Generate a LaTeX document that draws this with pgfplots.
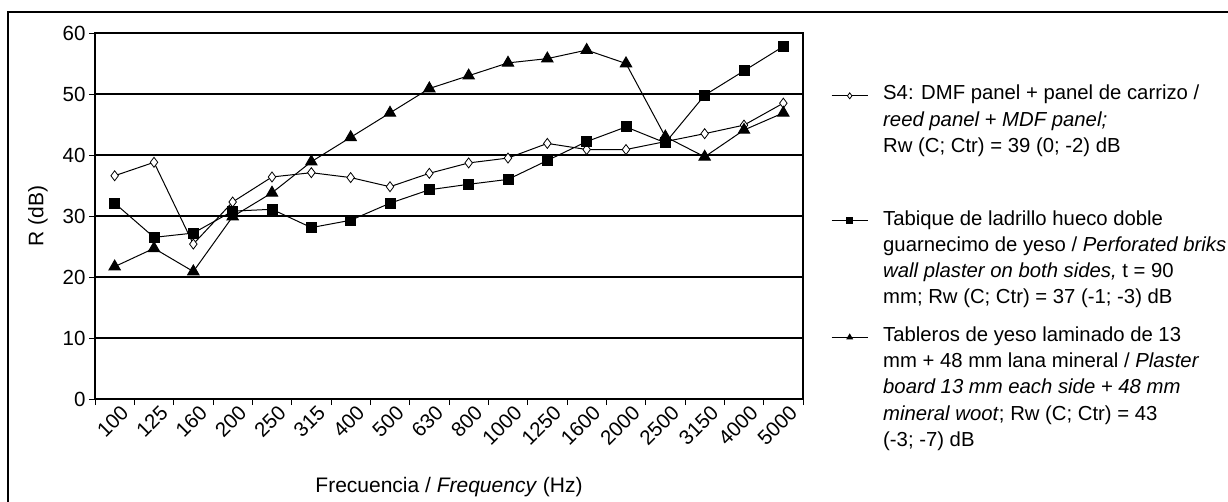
\documentclass[border=0pt]{standalone}
\usepackage{pgfplots}
\pgfplotsset{compat=1.18}
\usepackage{fontspec}
\setmainfont{Liberation Sans}
\begin{document}
\begin{tikzpicture}[x=1pt,y=1pt]
\begin{axis}[
  at={(95pt,102pt)}, anchor=south west,
  scale only axis, width=708pt, height=366pt,
  xmin=-0.5, xmax=17.5, ymin=0, ymax=60,
  ytick={0,10,...,60},
  ymajorgrids, grid style={black, line width=1.6pt},
  axis line style={black, line width=1.2pt},
  tick pos=left, tick align=outside,
  major tick length=6pt,
  tick style={black, line width=1pt},
  xtick={-0.5,0.5,...,17.5}, xticklabels={},
  extra x ticks={0,1,...,17},
  extra x tick labels={100,125,160,200,250,315,400,500,630,800,1000,1250,1600,2000,2500,3150,4000,5000},
  extra x tick style={major tick length=0pt, tick label style={rotate=45, anchor=north east, inner sep=1pt, yshift=-6pt, xshift=1pt}},
  /pgf/number format/assume math mode=true,
  tick label style={font=\fontsize{20.5}{24}\selectfont},
  xlabel={Frecuencia / \textit{Frequency} (Hz)},
  xlabel style={at={(rel axis cs:0.5,0)}, anchor=center, yshift=-88pt, font=\fontsize{21}{26}\selectfont},
  ylabel={R (dB)},
  ylabel style={at={(rel axis cs:0,0.5)}, anchor=center, yshift=57pt, font=\fontsize{21}{26}\selectfont},
  legend style={at={(rel axis cs:1,1)}, anchor=north west, xshift=28pt, yshift=-52pt, draw=none, fill=none,
    row sep=10pt, inner sep=0pt,
    /tikz/every odd column/.append style={column sep=15pt},
    nodes={inner sep=0pt, font=\fontsize{20.3}{26}\selectfont}},
  legend cell align=left,
  legend image code/.code={\draw[mark repeat=2, mark phase=2] plot coordinates {(0pt,-2.5pt)(18pt,-2.5pt)(36pt,-2.5pt)};},
  legend image post style={mark size=3pt},
]
\addplot[black, line width=1pt, mark=diamond*, mark size=5pt, mark options={fill=white, line width=0.8pt}] coordinates {
(0,36.6)(1,38.8)(2,25.4)(3,32.3)(4,36.4)(5,37.1)(6,36.3)(7,34.8)(8,37.0)(9,38.7)(10,39.5)(11,41.9)(12,40.9)(13,40.9)(14,42.2)(15,43.5)(16,44.9)(17,48.5)};
\addlegendentry{S4: DMF panel + panel de carrizo /}
\addlegendimage{empty legend}
\addlegendentry{\textit{reed panel + MDF panel;}}
\addlegendimage{empty legend}
\addlegendentry{Rw (C; Ctr) = 39 (0; -2) dB}
\addlegendimage{empty legend}
\addlegendentry{\rule{0pt}{35pt}}
\addplot[black, line width=1pt, mark=square*, mark size=5pt] coordinates {
(0,32.1)(1,26.5)(2,27.2)(3,30.8)(4,31.1)(5,28.1)(6,29.3)(7,32.1)(8,34.3)(9,35.2)(10,36.0)(11,39.1)(12,42.2)(13,44.6)(14,42.0)(15,49.8)(16,53.8)(17,57.8)};
\addlegendentry{Tabique de ladrillo hueco doble}
\addlegendimage{empty legend}
\addlegendentry{guarnecimo de yeso / \textit{Perforated briks}}
\addlegendimage{empty legend}
\addlegendentry{\textit{wall plaster on both sides,} t = 90}
\addlegendimage{empty legend}
\addlegendentry{mm; Rw (C; Ctr) = 37 (-1; -3) dB}
\addlegendimage{empty legend}
\addlegendentry{\rule{0pt}{0pt}}
\addplot[black, line width=1pt, mark=triangle*, mark size=6.5pt] coordinates {
(0,21.7)(1,24.7)(2,20.9)(3,29.9)(4,33.8)(5,38.9)(6,42.9)(7,46.9)(8,50.9)(9,53.0)(10,55.1)(11,55.8)(12,57.2)(13,55.0)(14,43.0)(15,39.7)(16,44.1)(17,46.9)};
\addlegendentry{Tableros de yeso laminado de 13}
\addlegendimage{empty legend}
\addlegendentry{mm + 48 mm lana mineral / \textit{Plaster}}
\addlegendimage{empty legend}
\addlegendentry{\textit{board 13 mm each side + 48 mm}}
\addlegendimage{empty legend}
\addlegendentry{\textit{mineral woot}; Rw (C; Ctr) = 43}
\addlegendimage{empty legend}
\addlegendentry{(-3; -7) dB}
\end{axis}
\draw[black, line width=2pt] (8pt,-20pt) -- (8pt,489pt) -- (1240pt,489pt);
\pgfresetboundingbox
\path[use as bounding box] (0,0) rectangle (1228pt,501pt);
\end{tikzpicture}
\end{document}
